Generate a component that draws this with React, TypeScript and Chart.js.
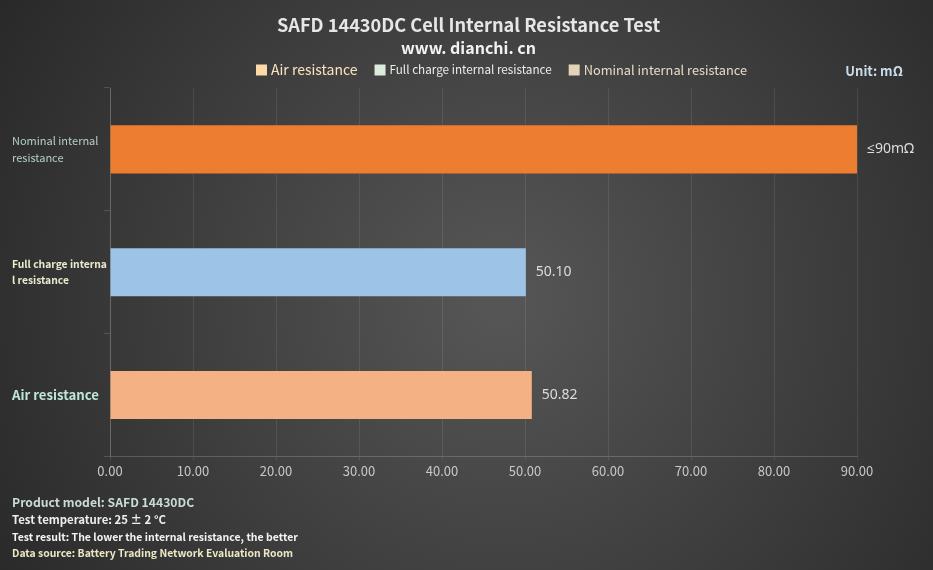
import { useEffect, useRef } from "react";
import { Chart, registerables, type Plugin } from "chart.js";

Chart.register(...registerables);

const FONT = "'Noto Sans CJK SC', 'Noto Sans', sans-serif";
const VALUE_FONT = "'Noto Sans', 'Open Sans', sans-serif";

const title = "SAFD 14430DC Cell Internal Resistance Test";
const subtitle = "www. dianchi. cn";
const categories = [
  ["Nominal internal", "resistance"],
  ["Full charge interna", "l resistance"],
  "Air resistance"
];
const values = [90, 50.1, 50.82];
const valueLabels = ["≤90mΩ", "50.10", "50.82"];
const barColors = ["#ED7D31", "#9DC3E6", "#F4B183"];
const tickLabelColors = ["#b4cfc8", "#ecebcf", "#bfe6da"];
const tickLabelSizes = [11, 10.3, 13.2];

const legendNames = [
  "Air resistance",
  "Full charge internal resistance",
  "Nominal internal resistance"
];
const legendSwatches = ["#FCD9A8", "#DDEBDD", "#E3D3B9"];
const legendTextColors = ["#FCE3BF", "#E8EEE8", "#E8DCC6"];
const legendSizes = [14, 11.7, 12.8];

const notes = [
  { text: "Product model: SAFD 14430DC", color: "#c9dcd5", size: 12.2 },
  { text: "Test temperature: 25 ± 2 °C", color: "#eeeeee", size: 11.4 },
  { text: "Test result: The lower the internal resistance, the better", color: "#f4f4f4", size: 10.5 },
  { text: "Data source: Battery Trading Network Evaluation Room", color: "#ece8c4", size: 10.4 }
];

const background: Plugin<"bar"> = {
  id: "background",
  beforeDraw(chart) {
    const { ctx, width, height } = chart;
    const g = ctx.createRadialGradient(500, 300, 20, 500, 300, 620);
    g.addColorStop(0, "#555555");
    g.addColorStop(1, "#262626");
    ctx.save();
    ctx.fillStyle = g;
    ctx.fillRect(0, 0, width, height);
    ctx.restore();
  }
};

const extras: Plugin<"bar"> = {
  id: "extras",
  afterDatasetsDraw(chart) {
    const { ctx } = chart;
    const meta = chart.getDatasetMeta(0);
    ctx.save();
    ctx.font = `14px ${VALUE_FONT}`;
    ctx.fillStyle = "#dddddd";
    ctx.textAlign = "left";
    ctx.textBaseline = "middle";
    meta.data.forEach((el, i) => {
      ctx.fillText(valueLabels[i], el.x + 10, el.y);
    });
    ctx.restore();
  },
  afterDraw(chart) {
    const { ctx, width } = chart;
    ctx.save();
    ctx.textBaseline = "middle";
    ctx.textAlign = "center";

    ctx.font = `bold 18.2px ${FONT}`;
    ctx.fillStyle = "#e6e6e6";
    ctx.fillText(title, width / 2 + 2, 25);
    ctx.font = `bold 16px ${FONT}`;
    ctx.fillStyle = "#f2f2f2";
    ctx.fillText(subtitle, width / 2 + 2, 48);

    // legend
    let x = 256;
    const ly = 70;
    ctx.textAlign = "left";
    legendNames.forEach((name, i) => {
      ctx.fillStyle = legendSwatches[i];
      ctx.fillRect(x, ly - 5.5, 11, 11);
      x += 15;
      ctx.font = `${legendSizes[i]}px ${FONT}`;
      ctx.fillStyle = legendTextColors[i];
      ctx.fillText(name, x, ly);
      x += ctx.measureText(name).width + 17;
    });

    ctx.font = `bold 13px ${FONT}`;
    ctx.fillStyle = "#c8dcec";
    ctx.textAlign = "right";
    ctx.fillText("Unit: mΩ", 903, 71);

    ctx.textAlign = "left";
    const ys = [502, 520, 537, 553];
    notes.forEach((n, i) => {
      ctx.font = `bold ${n.size}px ${FONT}`;
      ctx.fillStyle = n.color;
      ctx.fillText(n.text, 12, ys[i]);
    });
    ctx.restore();
  }
};

export default function App() {
  const canvasRef = useRef<HTMLCanvasElement | null>(null);

  useEffect(() => {
    document.body.style.margin = "0";
    const canvas = canvasRef.current;
    if (!canvas) return;
    const chart = new Chart(canvas, {
      type: "bar",
      data: {
        labels: categories,
        datasets: [
          {
            label: "Internal resistance",
            data: values,
            backgroundColor: barColors,
            borderWidth: 0,
            categoryPercentage: 0.8,
            barPercentage: 0.49
          }
        ]
      },
      options: {
        indexAxis: "y",
        animation: false,
        responsive: false,
        layout: { padding: { left: 12, right: 76, top: 88, bottom: 88 } },
        scales: {
          x: {
            min: 0,
            max: 90,
            ticks: {
              stepSize: 10,
              color: "#c8c8c8",
              font: { family: FONT, size: 13 },
              padding: 3,
              callback: (v) => Number(v).toFixed(2)
            },
            grid: { color: "rgba(255,255,255,0.09)", tickLength: 4 },
            border: { color: "rgba(255,255,255,0.18)" }
          },
          y: {
            afterFit: (scale) => {
              scale.width = 98;
            },
            ticks: {
              crossAlign: "far",
              color: (c) => tickLabelColors[c.index],
              font: (c) => ({
                family: FONT,
                size: tickLabelSizes[c.index],
                weight: c.index === 0 ? "normal" : "bold",
                lineHeight: 1.5
              })
            },
            grid: {
              drawOnChartArea: false,
              tickLength: 6,
              color: "rgba(255,255,255,0.15)"
            },
            border: { color: "rgba(255,255,255,0.18)" }
          }
        },
        plugins: {
          legend: { display: false },
          tooltip: { enabled: false }
        }
      },
      plugins: [background, extras]
    });
    return () => chart.destroy();
  }, []);

  return <canvas ref={canvasRef} width={933} height={570} style={{ display: "block" }} />;
}
